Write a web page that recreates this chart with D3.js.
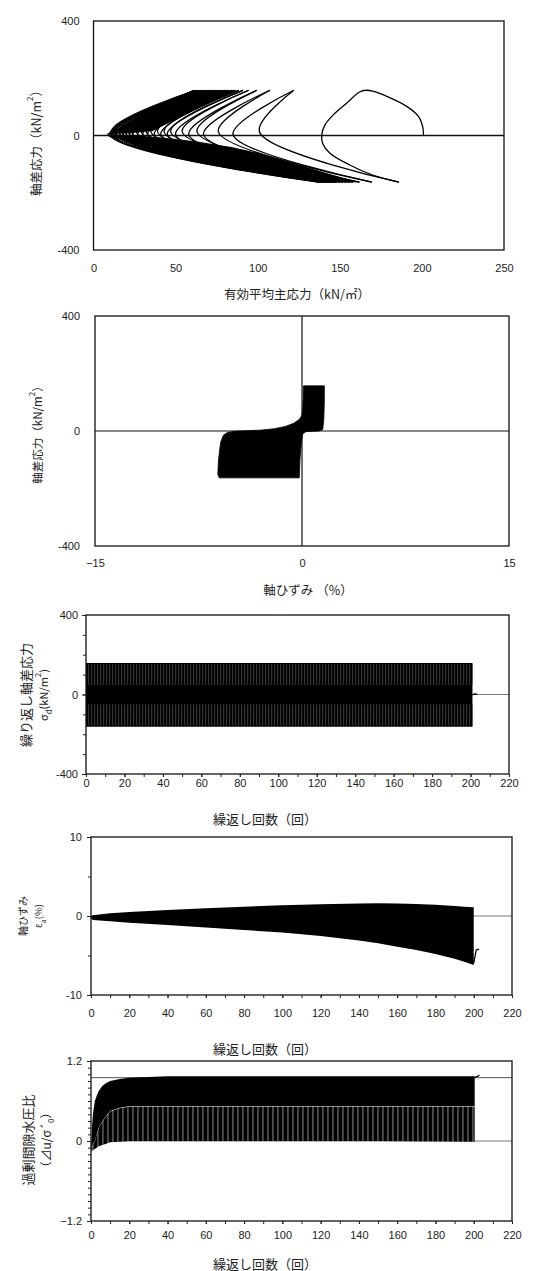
<!DOCTYPE html>
<html><head><meta charset="utf-8">
<script src="https://cdn.jsdelivr.net/npm/d3@7"></script>
<style>
body{margin:0;background:#fff;}
svg{display:block;}
.num{font-family:"Liberation Sans",Arial,sans-serif;font-size:11px;fill:#222;}
.jp{font-family:"Noto Sans CJK JP",sans-serif;fill:#222;}
</style></head><body>
<svg id="c" width="550" height="1271"></svg>
<script>
// ---------------- DATA ----------------
// Panel 1: effective stress path (p' vs q)
const p1XTicks = [0, 50, 100, 150, 200, 250];
const p1YTicks = [-400, 0, 400];
// first loop, read point by point
const firstLoopP = [201, 200.5, 198, 191, 179, 170, 166, 162, 154, 146, 141, 139, 139.5, 144, 156, 170, 186];
const firstLoopQ = [0, 30, 66, 101, 136, 155, 158, 152, 112, 72, 37, 2, -27, -62, -103, -138, -163];
// following loops: p' at compression peak (q=+158), extension peak (q=-163), and tips near q=0
const loopTopP       = [122, 107.5, 99.5, 94.5, 91, 88.5, 86, 84, 82, 80, 78, 76, 74, 72, 70, 68, 66, 64, 62];
const loopBottomP    = [186, 169.5, 162, 158, 156, 154, 152, 150, 148, 147, 146, 145, 144, 143, 142, 141, 140, 139, 138, 137];
const loopReloadTipP = [101, 76, 63, 54, 47, 43, 39, 35, 32, 29, 26, 23, 21, 19, 17, 15, 13, 12, 11];
const loopUnloadTipP = [85, 67, 58, 50, 45, 41, 37, 33, 30, 27, 24, 22, 20, 18, 16, 14, 12, 11, 10];
const loopPeakQ = 158, loopTroughQ = -163, reloadTipQ = 14, unloadTipQ = 4;
// dense (overlapping) part of the path, outline
const upperWedgeP = [8, 60, 88, 76, 57, 44, 36, 22];
const upperWedgeQ = [5, 158, 158, 128, 75, 38, 16, 8];
const lowerWedgeP = [8, 10, 136, 162, 146, 124, 104, 84, 62, 42, 26];
const lowerWedgeQ = [4, -6, -163, -163, -138, -100, -66, -40, -20, -7, 0];

// Panel 2: stress-strain
const p2XTicks = [-15, 0, 15];
const p2YTicks = [-400, 0, 400];
const blobStrain = [0.1, 1.62, 1.62, 1.58, 1.5, 1.2, 0.3, 0.05, -0.05, -0.15, -0.2, -6.0, -6.1, -6.05, -5.9, -5.7, -5.4, -4.9, -4.0, -3.0, -2.0, -1.2, -0.6, -0.2, 0.0, 0.05, 0.08];
const blobStress = [157, 157, 110, 40, 5, 0, -2, -10, -40, -100, -163, -163, -150, -100, -40, -15, -5, -1, 1, 3, 8, 16, 27, 40, 55, 75, 110];

// Panel 3: cyclic deviator stress vs cycles
const cycXTicks = [0, 20, 40, 60, 80, 100, 120, 140, 160, 180, 200, 220];
const p3YTicks = [-400, 0, 400];
const sdCycles = [0, 50, 100, 150, 201];
const sdUpper  = [158, 158, 158, 158, 158];
const sdLower  = [-162, -162, -162, -162, -162];
const sdTailN = [201, 202, 203.5];
const sdTailV = [-2, 3, 2];

// Panel 4: axial strain vs cycles
const p4YTicks = [-10, 0, 10];
const eaCycles = [0, 1, 10, 20, 40, 60, 80, 100, 120, 140, 150, 160, 170, 180, 190, 195, 200];
const eaUpper  = [0, 0.1, 0.35, 0.5, 0.76, 0.98, 1.18, 1.36, 1.5, 1.58, 1.6, 1.58, 1.52, 1.42, 1.27, 1.18, 1.1];
const eaLower  = [-0.3, -0.5, -0.68, -0.85, -1.14, -1.44, -1.78, -2.1, -2.54, -3.1, -3.45, -3.9, -4.3, -4.8, -5.4, -5.8, -6.2];
const eaTailN = [200, 201.3, 202.8];
const eaTailV = [-6.0, -4.3, -4.2];

// Panel 5: excess pore pressure ratio vs cycles
const p5YTicks = [-1.2, 0, 1.2];
const ppCycles = [0, 0.5, 1, 2, 3, 4, 6, 8, 10, 15, 20, 30, 40, 60, 100, 150, 200, 200.5];
const ppUpper  = [-0.15, 0.2, 0.4, 0.6, 0.68, 0.75, 0.83, 0.87, 0.9, 0.93, 0.95, 0.96, 0.97, 0.97, 0.97, 0.97, 0.97, 0.97];
const ppMid    = [-0.15, -0.1, -0.05, 0, 0.1, 0.2, 0.3, 0.38, 0.45, 0.5, 0.52, 0.52, 0.52, 0.52, 0.52, 0.52, 0.52, 0.52];
const ppLower  = [-0.15, -0.15, -0.14, -0.12, -0.1, -0.08, -0.06, -0.04, -0.02, -0.01, 0, 0, 0, 0, 0, 0, -0.01, -0.01];
const ppTailN = [200.5, 202, 203];
const ppTailV = [0.95, 0.97, 0.99];
const ppRefLevel = 0.95;

// ---------------- DRAW ----------------
const svg = d3.select('#c');
const defs = svg.append('defs');
const pat1 = defs.append('pattern').attr('id','stripeA').attr('patternUnits','userSpaceOnUse').attr('width',3).attr('height',8);
pat1.append('rect').attr('width',3).attr('height',8).attr('fill','#000');
pat1.append('rect').attr('x',1.5).attr('width',0.6).attr('height',8).attr('fill','#666');
const pat2 = defs.append('pattern').attr('id','stripeB').attr('patternUnits','userSpaceOnUse').attr('width',5).attr('height',8);
pat2.append('rect').attr('width',5).attr('height',8).attr('fill','#000');
pat2.append('rect').attr('x',2.5).attr('width',0.9).attr('height',8).attr('fill','#999');

function styleAxis(s){
  s.attr('font-size',null).attr('font-family',null);
  s.select('.domain').remove();
  s.selectAll('text').attr('class','num').attr('fill',null);
  s.selectAll('line').attr('stroke','#222');
}
function makePanel(c){
  const x = d3.scaleLinear().domain(c.xd).range([c.l, c.r]);
  const y = d3.scaleLinear().domain(c.yd).range([c.b, c.t]);
  const g = svg.append('g');
  const clipId = 'clip'+Math.round(c.t);
  defs.append('clipPath').attr('id',clipId).append('rect')
    .attr('x',c.l).attr('y',c.t).attr('width',c.r-c.l).attr('height',c.b-c.t);
  const plot = g.append('g').attr('clip-path',`url(#${clipId})`);
  return {x,y,g,plot,c};
}
function frame(P){
  P.g.append('rect').attr('x',P.c.l).attr('y',P.c.t).attr('width',P.c.r-P.c.l).attr('height',P.c.b-P.c.t)
    .attr('fill','none').attr('stroke','#111').attr('stroke-width',1.3);
}
function xAxis(P, ticks, size, pad, fmt, minor){
  if(minor){
    P.g.append('g').attr('transform',`translate(0,${P.c.b})`)
      .call(d3.axisBottom(P.x).tickValues(minor).tickSize(3).tickFormat(''))
      .call(styleAxis);
  }
  P.g.append('g').attr('transform',`translate(0,${P.c.b})`)
    .call(d3.axisBottom(P.x).tickValues(ticks).tickSize(size).tickPadding(pad).tickFormat(fmt||(d=>d)))
    .call(styleAxis);
}
function yAxis(P, ticks, size, pad, fmt, minor){
  if(minor){
    P.g.append('g').attr('transform',`translate(${P.c.l},0)`)
      .call(d3.axisLeft(P.y).tickValues(minor).tickSize(3).tickFormat(''))
      .call(styleAxis);
  }
  P.g.append('g').attr('transform',`translate(${P.c.l},0)`)
    .call(d3.axisLeft(P.y).tickValues(ticks).tickSize(size).tickPadding(pad).tickFormat(fmt||(d=>d)))
    .call(styleAxis);
}
function xTitle(x, y, txt, size){
  svg.append('text').attr('class','jp').attr('x',x).attr('y',y).attr('text-anchor','middle')
    .attr('dominant-baseline','central').attr('font-size',size).text(txt);
}
function yTitle(x, y, parts, size){
  const t = svg.append('text').attr('class','jp').attr('text-anchor','middle').attr('dominant-baseline','central')
    .attr('font-size',size).attr('transform',`translate(${x},${y}) rotate(-90)`);
  parts.forEach(p=>{
    if(typeof p === 'string') t.append('tspan').text(p);
    else t.append('tspan').attr('baseline-shift',p.shift).attr('font-size',p.size).text(p.t);
  });
}
const zipPts = (a,b)=>a.map((v,i)=>[v,b[i]]);

// ===== Panel 1 =====
const P1 = makePanel({l:93.5, r:504, t:21, b:250, xd:[0,250], yd:[-400,400]});
P1.plot.append('line').attr('x1',P1.x(0)).attr('x2',P1.x(250)).attr('y1',P1.y(0)).attr('y2',P1.y(0))
  .attr('stroke','#111').attr('stroke-width',1.3);
const poly = d3.line().x(d=>P1.x(d[0])).y(d=>P1.y(d[1])).curve(d3.curveLinearClosed);
P1.plot.append('path').attr('d',poly(zipPts(upperWedgeP,upperWedgeQ))).attr('fill','#000');
P1.plot.append('path').attr('d',poly(zipPts(lowerWedgeP,lowerWedgeQ))).attr('fill','#000');
const vLine = d3.line().x(d=>P1.x(d[0])).y(d=>P1.y(d[1])).curve(d3.curveCatmullRom.alpha(0.5));
const segs = [zipPts(firstLoopP, firstLoopQ)];
loopTopP.forEach((tp,k)=>{
  segs.push([[loopBottomP[k],loopTroughQ],[loopReloadTipP[k],reloadTipQ],[tp,loopPeakQ]]);
  segs.push([[tp,loopPeakQ],[loopUnloadTipP[k],unloadTipQ],[loopBottomP[k+1],loopTroughQ]]);
});
P1.plot.selectAll('path.loop').data(segs).join('path').attr('class','loop')
  .attr('d',vLine).attr('fill','none').attr('stroke','#000').attr('stroke-width',1.3);
frame(P1);
xAxis(P1, p1XTicks, 0, 14);
yAxis(P1, p1YTicks, 0, 14);
xTitle(297, 293, '有効平均主応力（kN/㎡）', 12.5);
yTitle(35, 140, ['軸差応力（kN/m',{t:'2',shift:'super',size:8},'）'], 12.5);

// ===== Panel 2 =====
const P2 = makePanel({l:95, r:509, t:316, b:546, xd:[-15,15], yd:[-400,400]});
P2.plot.append('line').attr('x1',P2.x(-15)).attr('x2',P2.x(15)).attr('y1',P2.y(0)).attr('y2',P2.y(0))
  .attr('stroke','#111').attr('stroke-width',1.2);
P2.plot.append('line').attr('x1',P2.x(0)).attr('x2',P2.x(0)).attr('y1',P2.y(-400)).attr('y2',P2.y(400))
  .attr('stroke','#111').attr('stroke-width',1.2);
const blobLine = d3.line().x(d=>P2.x(d[0])).y(d=>P2.y(d[1])).curve(d3.curveLinearClosed);
P2.plot.append('path').attr('d',blobLine(zipPts(blobStrain,blobStress))).attr('fill','#000').attr('stroke','#000').attr('stroke-width',0.8).attr('stroke-linejoin','round');
frame(P2);
xAxis(P2, p2XTicks, 0, 13, d=>d===-15?'−15':d);
yAxis(P2, p2YTicks, 0, 15);
xTitle(308, 589, '軸ひずみ （%）', 12.5);
yTitle(37, 432, ['軸差応力（kN/m',{t:'2',shift:'super',size:8},'）'], 11.5);

// ===== Panel 3 =====
const P3 = makePanel({l:86, r:509, t:615, b:774, xd:[0,220], yd:[-400,400]});
P3.plot.append('line').attr('x1',P3.x(0)).attr('x2',P3.x(220)).attr('y1',P3.y(0)).attr('y2',P3.y(0))
  .attr('stroke','#777').attr('stroke-width',1);
const sdPts = sdCycles.map((n,i)=>({n, hi:sdUpper[i], lo:sdLower[i]}));
P3.plot.append('path').datum(sdPts)
  .attr('d',d3.area().x(d=>P3.x(d.n)).y0(d=>P3.y(d.lo)).y1(d=>P3.y(d.hi))).attr('fill','#000');
P3.plot.append('path').datum(sdPts)
  .attr('d',d3.area().x(d=>P3.x(d.n)).y0(d=>P3.y(d.hi*0.3)).y1(d=>P3.y(d.hi*0.97))).attr('fill','url(#stripeA)');
P3.plot.append('path').datum(sdPts)
  .attr('d',d3.area().x(d=>P3.x(d.n)).y0(d=>P3.y(d.lo*0.3)).y1(d=>P3.y(d.lo*0.97))).attr('fill','url(#stripeA)');
P3.plot.append('path').attr('d',d3.line().x(d=>P3.x(d[0])).y(d=>P3.y(d[1]))(zipPts(sdTailN,sdTailV)))
  .attr('fill','none').attr('stroke','#000').attr('stroke-width',1.3);
frame(P3);
xAxis(P3, cycXTicks, 3, 2, null, d3.range(0,221,10));
yAxis(P3, p3YTicks, 4, 4, null, d3.range(-400,401,100));
xTitle(265, 818, '繰返し回数（回）', 13);
yTitle(25, 695, ['繰り返し軸差応力'], 13);
yTitle(43, 695, ['σ',{t:'d',shift:'sub',size:8},'(kN/m',{t:'2',shift:'super',size:8},')'], 11);

// ===== Panel 4 =====
const P4 = makePanel({l:91, r:512, t:837, b:995, xd:[0,220], yd:[-10,10]});
P4.plot.append('line').attr('x1',P4.x(0)).attr('x2',P4.x(220)).attr('y1',P4.y(0)).attr('y2',P4.y(0))
  .attr('stroke','#777').attr('stroke-width',1);
const eaPts = eaCycles.map((n,i)=>({n, hi:eaUpper[i], lo:eaLower[i]}));
P4.plot.append('path').datum(eaPts)
  .attr('d',d3.area().x(d=>P4.x(d.n)).y0(d=>P4.y(d.lo)).y1(d=>P4.y(d.hi))).attr('fill','#000');
P4.plot.append('path').attr('d',d3.line().x(d=>P4.x(d[0])).y(d=>P4.y(d[1]))(zipPts(eaTailN,eaTailV)))
  .attr('fill','none').attr('stroke','#000').attr('stroke-width',1.3);
frame(P4);
xAxis(P4, cycXTicks, 3, 11, null, d3.range(0,221,10));
yAxis(P4, p4YTicks, 4, 5, null, d3.range(-10,11,5));
xTitle(265, 1048, '繰返し回数（回）', 13);
yTitle(22, 916, ['軸ひずみ'], 10);
yTitle(38, 916, ['ε',{t:'a',shift:'sub',size:7},'(%)'], 9.5);

// ===== Panel 5 =====
const P5 = makePanel({l:91, r:512, t:1061, b:1221, xd:[0,220], yd:[-1.2,1.2]});
P5.plot.append('line').attr('x1',P5.x(0)).attr('x2',P5.x(220)).attr('y1',P5.y(0)).attr('y2',P5.y(0))
  .attr('stroke','#777').attr('stroke-width',1);
P5.plot.append('line').attr('x1',P5.x(0)).attr('x2',P5.x(220)).attr('y1',P5.y(ppRefLevel)).attr('y2',P5.y(ppRefLevel))
  .attr('stroke','#555').attr('stroke-width',1);
const ppPts = ppCycles.map((n,i)=>({n, hi:ppUpper[i], mid:ppMid[i], lo:ppLower[i]}));
P5.plot.append('path').datum(ppPts)
  .attr('d',d3.area().x(d=>P5.x(d.n)).y0(d=>P5.y(d.mid)).y1(d=>P5.y(d.hi))).attr('fill','#000');
P5.plot.append('path').datum(ppPts)
  .attr('d',d3.area().x(d=>P5.x(d.n)).y0(d=>P5.y(d.lo)).y1(d=>P5.y(d.mid)+0.5)).attr('fill','url(#stripeB)');
P5.plot.append('path').attr('d',d3.line().x(d=>P5.x(d[0])).y(d=>P5.y(d[1]))(zipPts(ppTailN,ppTailV)))
  .attr('fill','none').attr('stroke','#000').attr('stroke-width',1.3);
frame(P5);
xAxis(P5, cycXTicks, 3, 7, null, d3.range(0,221,10));
yAxis(P5, p5YTicks, 4, 5, d=>d===0?'0':d3.format('.1f')(d).replace('-','−'), d3.range(-12,13,1).map(v=>v/10));
xTitle(265, 1263, '繰返し回数（回）', 13);
yTitle(27, 1140, ['過剰間隙水圧比'], 13);
yTitle(45, 1140, ['（⊿u/σ´',{t:'0',shift:'sub',size:8},'）'], 12);
</script>
</body></html>
